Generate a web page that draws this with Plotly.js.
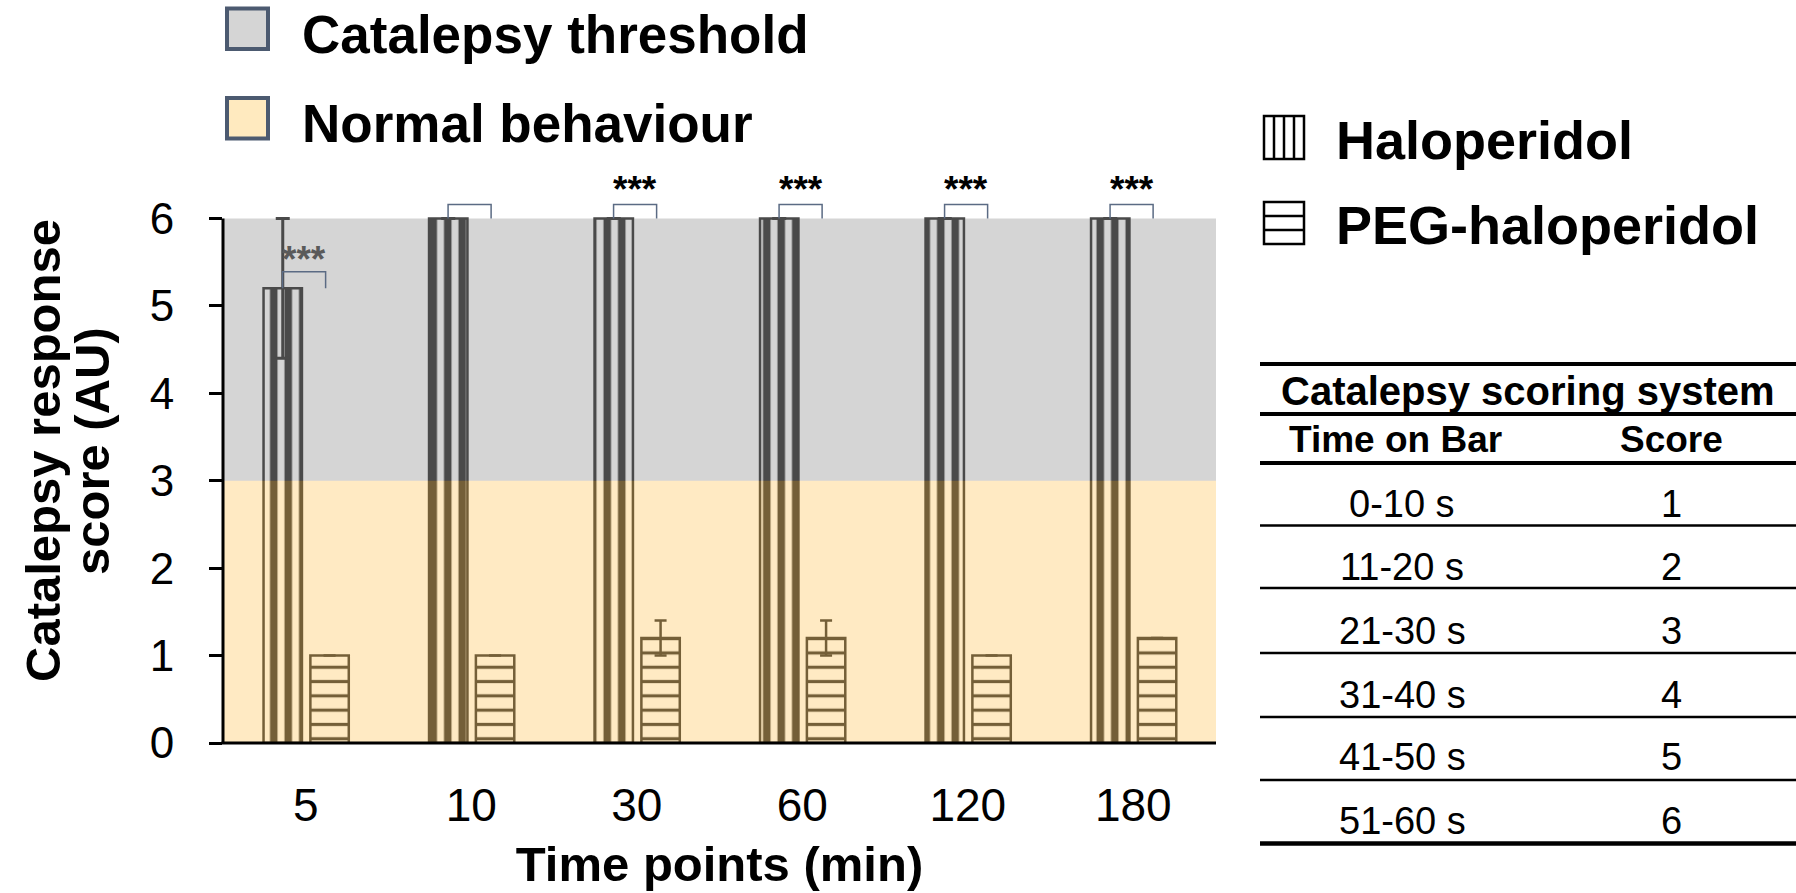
<!DOCTYPE html>
<html>
<head>
<meta charset="utf-8">
<script src="https://cdn.plot.ly/plotly-3.0.1.min.js"></script>
<style>html,body{margin:0;padding:0;background:#fff;}#chart{width:1796px;height:893px;}</style>
</head>
<body>
<div id="chart"></div>
<script>
// ---- data ----
const timePoints = ['5', '10', '30', '60', '120', '180'];
const haloMean = [5.2, 6, 6, 6, 6, 6];
const haloErr = [0.8, 0, 0, 0, 0, 0];
const pegMean = [1.0, 1.0, 1.2, 1.2, 1.0, 1.2];
const pegErr = [0, 0, 0.2, 0.2, 0, 0];
const sigLabels = ['***', '', '***', '***', '***', '***'];
const sigBracketY = [5.39, 6.16, 6.16, 6.16, 6.16, 6.16];
const sigLegY = [5.2, 6.0, 6.0, 6.0, 6.0, 6.0];
const sigTextY = [5.53, 6.33, 6.33, 6.33, 6.33, 6.33];
const yTicks = [0, 1, 2, 3, 4, 5, 6];
const thresholdRange = [3, 6];
const normalRange = [0, 3];
const scoreTimes = ['0-10 s', '11-20 s', '21-30 s', '31-40 s', '41-50 s', '51-60 s'];
const scoreValues = ['1', '2', '3', '4', '5', '6'];

// ---- layout geometry ----
const W = 1796, H = 893, L = 223, R = 580, T = 131, B = 150;
const PW = W - L - R, PH = H - T - B;
const YMAX = 7;
const px = p => (p - L) / PW;
const py = p => (H - B - p) / PH;
const FONT = 'Liberation Sans, Arial, Helvetica, sans-serif';
const DARK = '#4a4a4a';

const barWidth = 0.232;
const haloOffset = -0.255, pegOffset = 0.028;

const haloTrace = {
  type: 'bar', name: 'Haloperidol', x: timePoints, y: haloMean,
  width: barWidth, offset: haloOffset,
  marker: {
    color: 'rgba(0,0,0,0)',
    line: {color: DARK, width: 2.5},
    pattern: {shape: '|', fgcolor: DARK, bgcolor: 'rgba(0,0,0,0)', size: 14.5, solidity: 0.52, fillmode: 'replace'}
  },
  error_y: {type: 'data', array: haloErr, visible: true, color: DARK, thickness: 3, width: 7},
  hoverinfo: 'none', showlegend: false
};
const pegTrace = {
  type: 'bar', name: 'PEG-haloperidol', x: timePoints, y: pegMean,
  width: barWidth, offset: pegOffset,
  marker: {
    color: 'rgba(0,0,0,0)',
    line: {color: DARK, width: 2.5},
    pattern: {shape: '-', fgcolor: DARK, bgcolor: 'rgba(0,0,0,0)', size: 14.3, solidity: 0.22, fillmode: 'replace'}
  },
  error_y: {type: 'data', array: pegErr, visible: true, color: DARK, thickness: 2.5, width: 6},
  hoverinfo: 'none', showlegend: false
};

const shapes = [];
const annotations = [];

// background zones
shapes.push({type: 'rect', xref: 'paper', yref: 'paper', x0: 0, x1: 1,
  y0: thresholdRange[0] / YMAX, y1: thresholdRange[1] / YMAX,
  fillcolor: '#d5d5d5', line: {width: 0}, layer: 'below'});
shapes.push({type: 'rect', xref: 'paper', yref: 'paper', x0: 0, x1: 1,
  y0: normalRange[0] / YMAX, y1: normalRange[1] / YMAX,
  fillcolor: '#ffa400', opacity: 0.235, line: {width: 0}, layer: 'above'});
// axis lines
shapes.push({type: 'line', xref: 'paper', yref: 'paper', x0: 0, x1: 0, y0: 0, y1: 6 / YMAX,
  line: {color: '#000', width: 3}, layer: 'above'});
shapes.push({type: 'line', xref: 'paper', yref: 'paper', x0: -0.0015, x1: 1, y0: 0, y1: 0,
  line: {color: '#000', width: 3}, layer: 'above'});

// significance brackets
timePoints.forEach((t, i) => {
  const xa = i - 0.14, xb = i + 0.12;
  const path = `M${xa},${sigLegY[i]} L${xa},${sigBracketY[i]} L${xb},${sigBracketY[i]} L${xb},${sigLegY[i]}`;
  shapes.push({type: 'path', xref: 'x', yref: 'y', path: path,
    line: {color: '#5b6b84', width: 1.5}, layer: 'above'});
  if (sigLabels[i]) {
    annotations.push({xref: 'x', yref: 'y', x: i - 0.01, y: sigTextY[i], text: sigLabels[i],
      showarrow: false, xanchor: 'center', yanchor: 'middle',
      font: {family: FONT, size: 37, weight: 'bold', color: i === 0 ? '#5a5a5a' : '#000'}});
  }
});

// y axis title (two lines)
annotations.push({xref: 'paper', yref: 'paper', x: px(43), y: py(451), text: 'Catalepsy response',
  textangle: -90, showarrow: false, xanchor: 'center', yanchor: 'middle',
  font: {family: FONT, size: 49, weight: 'bold', color: '#000'}});
annotations.push({xref: 'paper', yref: 'paper', x: px(92), y: py(451), text: 'score (AU)',
  textangle: -90, showarrow: false, xanchor: 'center', yanchor: 'middle',
  font: {family: FONT, size: 49, weight: 'bold', color: '#000'}});

// top zone legend
const zoneLegend = [
  {label: 'Catalepsy threshold', fill: '#d5d5d5', y0: 8.5, y1: 49, ty: 35},
  {label: 'Normal behaviour', fill: '#ffeabf', y0: 98, y1: 138.5, ty: 123}
];
zoneLegend.forEach(z => {
  shapes.push({type: 'rect', xref: 'paper', yref: 'paper', x0: px(227), x1: px(268), y0: py(z.y1), y1: py(z.y0),
    fillcolor: z.fill, line: {color: '#4c5a70', width: 4}});
  annotations.push({xref: 'paper', yref: 'paper', x: px(300), y: py(z.ty), text: z.label,
    showarrow: false, xanchor: 'left', yanchor: 'middle',
    font: {family: FONT, size: 53, weight: 'bold', color: '#000'}});
});

// series legend (pattern icons)
const iconLine = {color: '#000', width: 2.5};
shapes.push({type: 'rect', xref: 'paper', yref: 'paper', x0: px(1264), x1: px(1304), y0: py(159), y1: py(116), line: iconLine});
[1274, 1284, 1294].forEach(xx => shapes.push({type: 'line', xref: 'paper', yref: 'paper', x0: px(xx), x1: px(xx), y0: py(159), y1: py(116), line: iconLine}));
shapes.push({type: 'rect', xref: 'paper', yref: 'paper', x0: px(1264), x1: px(1304), y0: py(244), y1: py(202), line: iconLine});
[216, 230].forEach(yy => shapes.push({type: 'line', xref: 'paper', yref: 'paper', x0: px(1264), x1: px(1304), y0: py(yy), y1: py(yy), line: iconLine}));
annotations.push({xref: 'paper', yref: 'paper', x: px(1334), y: py(140), text: 'Haloperidol',
  showarrow: false, xanchor: 'left', yanchor: 'middle', font: {family: FONT, size: 54, weight: 'bold', color: '#000'}});
annotations.push({xref: 'paper', yref: 'paper', x: px(1334), y: py(225), text: 'PEG-haloperidol',
  showarrow: false, xanchor: 'left', yanchor: 'middle', font: {family: FONT, size: 54, weight: 'bold', color: '#000'}});

// scoring table
const tblX0 = px(1260), tblX1 = px(1796);
[[364, 4], [414, 4], [463, 4], [525.5, 2.5], [588, 2.5], [653, 2.5], [717, 2.5], [780, 2.5], [843.5, 4.5]].forEach(([yy, w]) =>
  shapes.push({type: 'line', xref: 'paper', yref: 'paper', x0: tblX0, x1: tblX1, y0: py(yy), y1: py(yy), line: {color: '#000', width: w}}));
annotations.push({xref: 'paper', yref: 'paper', x: px(1528), y: py(391), text: 'Catalepsy scoring system',
  showarrow: false, xanchor: 'center', yanchor: 'middle', font: {family: FONT, size: 40, weight: 'bold', color: '#000'}});
annotations.push({xref: 'paper', yref: 'paper', x: px(1395), y: py(439), text: 'Time on Bar',
  showarrow: false, xanchor: 'center', yanchor: 'middle', font: {family: FONT, size: 37, weight: 'bold', color: '#000'}});
annotations.push({xref: 'paper', yref: 'paper', x: px(1671), y: py(439), text: 'Score',
  showarrow: false, xanchor: 'center', yanchor: 'middle', font: {family: FONT, size: 37, weight: 'bold', color: '#000'}});
const rowY = [504, 567, 631, 695, 757, 821];
scoreTimes.forEach((s, i) => {
  annotations.push({xref: 'paper', yref: 'paper', x: px(1402), y: py(rowY[i]), text: s,
    showarrow: false, xanchor: 'center', yanchor: 'middle', font: {family: FONT, size: 38, color: '#000'}});
  annotations.push({xref: 'paper', yref: 'paper', x: px(1671), y: py(rowY[i]), text: scoreValues[i],
    showarrow: false, xanchor: 'center', yanchor: 'middle', font: {family: FONT, size: 38, color: '#000'}});
});

const layout = {
  width: W, height: H,
  margin: {l: L, r: R, t: T, b: B, pad: 0},
  paper_bgcolor: '#fff', plot_bgcolor: 'rgba(0,0,0,0)',
  barmode: 'overlay',
  showlegend: false,
  font: {family: FONT, color: '#000'},
  xaxis: {
    type: 'category', range: [-0.5, 5.5], showgrid: false, zeroline: false, showline: false,
    ticks: '', tickfont: {family: FONT, size: 46, color: '#000'}, ticklabelstandoff: 31,
    title: {text: 'Time points (min)', font: {family: FONT, size: 49, weight: 'bold', color: '#000'}, standoff: 16},
    fixedrange: true
  },
  yaxis: {
    range: [0, YMAX], tickvals: yTicks, ticktext: yTicks.map(String),
    showgrid: false, zeroline: false, showline: false,
    ticks: 'outside', ticklen: 13, tickwidth: 3, tickcolor: '#000',
    tickfont: {family: FONT, size: 44, color: '#000'}, ticklabelstandoff: 26,
    fixedrange: true
  },
  shapes: shapes,
  annotations: annotations
};

Plotly.newPlot('chart', [haloTrace, pegTrace], layout, {displayModeBar: false, staticPlot: true});
</script>
</body>
</html>
